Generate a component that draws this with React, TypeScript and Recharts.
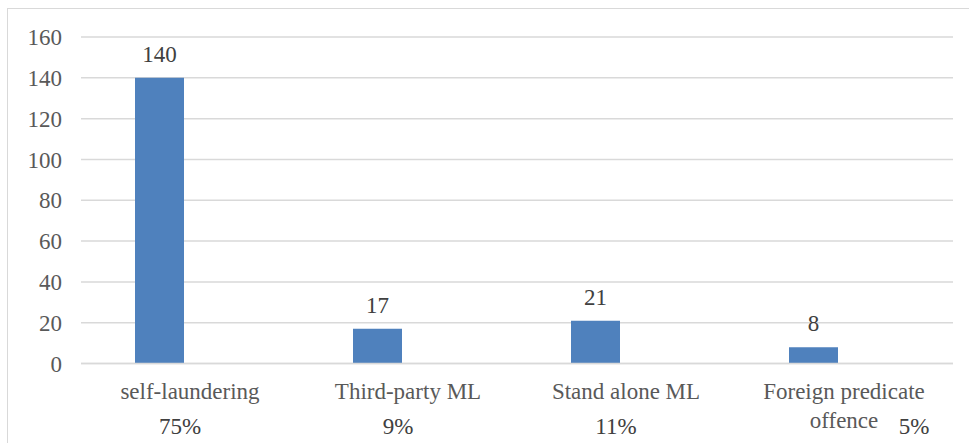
import { BarChart, Bar, XAxis, YAxis, CartesianGrid, LabelList } from 'recharts';

const CATEGORIES = ['self-laundering', 'Third-party ML', 'Stand alone ML', 'Foreign predicate offence'];
const CASES = [140, 17, 21, 8];
const SHARES = ['75%', '9%', '11%', '5%'];
// empty second series, keeps the bars on the left of each category like the original
const SPACER = [0, 0, 0, 0];
const Y_TICKS = [0, 20, 40, 60, 80, 100, 120, 140, 160];

const data = CATEGORIES.map((name, i) => ({
  name,
  cases: CASES[i],
  spacer: SPACER[i],
  share: SHARES[i],
}));

const FONT = '"Liberation Serif", "Times New Roman", serif';
const FONT_SIZE = 23;

function splitLabel(label: string): string[] {
  if (label.length <= 18) return [label];
  const cut = label.lastIndexOf(' ', 18);
  return [label.slice(0, cut), label.slice(cut + 1)];
}

function CategoryTick(props: any) {
  const { x, y, payload, index } = props;
  const lines = splitLabel(payload.value);
  const share = SHARES[index];
  const wrapped = lines.length > 1;
  return (
    <g>
      {lines.map((line, i) => (
        <text
          key={i}
          x={x}
          y={y + 35 + i * 29}
          textAnchor="middle"
          fill="#595959"
          style={{ fontFamily: FONT, fontSize: FONT_SIZE }}
        >
          {line}
        </text>
      ))}
      <text
        x={wrapped ? x + 70 : x - 10}
        y={y + 70}
        textAnchor="middle"
        fill="#404040"
        style={{ fontFamily: FONT, fontSize: FONT_SIZE }}
      >
        {share}
      </text>
    </g>
  );
}

function ValueLabel(props: any) {
  const { x, y, width, value } = props;
  return (
    <text
      x={x + width / 2}
      y={y - 16}
      textAnchor="middle"
      fill="#404040"
      style={{ fontFamily: FONT, fontSize: FONT_SIZE }}
    >
      {value}
    </text>
  );
}

function ValueTick(props: any) {
  const { x, y, payload } = props;
  return (
    <text
      x={x}
      y={y}
      dy="0.355em"
      textAnchor="end"
      fill="#595959"
      style={{ fontFamily: FONT, fontSize: FONT_SIZE }}
    >
      {payload.value}
    </text>
  );
}

export default function App() {
  return (
    <div
      style={{
        position: 'absolute',
        left: 0,
        top: 0,
        width: 969,
        height: 443,
        overflow: 'hidden',
        background: '#fff',
        fontFamily: FONT,
      }}
    >
      <div
        style={{
          position: 'absolute',
          left: 7,
          top: 8,
          width: 990,
          height: 460,
          border: '1px solid #d9d9d9',
          boxSizing: 'border-box',
        }}
      />
      <div style={{ position: 'absolute', left: 0, top: 0 }}>
        <BarChart
          width={969}
          height={443}
          data={data}
          margin={{ top: 37, right: 16, bottom: 0, left: 0 }}
          barCategoryGap={54}
          barGap={12}
        >
          <CartesianGrid vertical={false} stroke="#d9d9d9" strokeWidth={1.5} />
          <XAxis
            dataKey="name"
            height={79.5}
            axisLine={{ stroke: '#d9d9d9', strokeWidth: 1.5 }}
            tickLine={false}
            tickSize={0}
            tickMargin={0}
            interval={0}
            tick={<CategoryTick />}
          />
          <YAxis
            width={81}
            domain={[0, 160]}
            ticks={Y_TICKS}
            axisLine={false}
            tickLine={false}
            tickSize={0}
            tickMargin={19}
            tick={<ValueTick />}
          />
          <Bar dataKey="cases" fill="#4f81bd" isAnimationActive={false}>
            <LabelList dataKey="cases" content={<ValueLabel />} />
          </Bar>
          <Bar dataKey="spacer" fill="#c0504d" isAnimationActive={false} />
        </BarChart>
      </div>
    </div>
  );
}
